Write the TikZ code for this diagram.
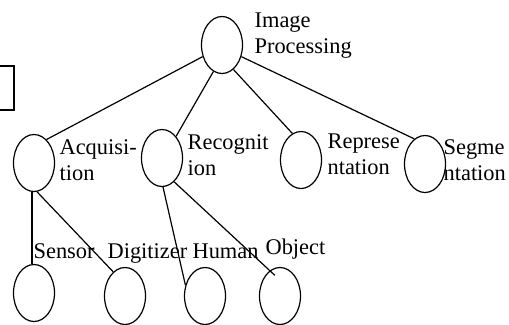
\documentclass[tikz,border=0pt]{standalone}
\usepackage{fontspec}
\setmainfont{Liberation Serif}
\usetikzlibrary{shapes.geometric}

\begin{document}
\begin{tikzpicture}[x=1bp,y=-1bp,line width=1.2bp,
  blob/.style={draw,ellipse,minimum width=41bp,minimum height=57bp,inner sep=0pt},
  lbl/.style={anchor=base west,inner sep=0pt,align=left,font=\fontsize{22.5}{25.5}\selectfont}]
\useasboundingbox (0,0) rectangle (509,324);
\clip (0,0) rectangle (509,324);
\draw (-20,66) rectangle (14,110);
% ellipses
\node[blob] (img) at (222,45) {};
\node[blob] (acq) at (34,163) {};
\node[blob] (rec) at (162,158) {};
\node[blob] (rep) at (301,160) {};
\node[blob] (seg) at (425,164) {};
\node[blob] (sen) at (34,293) {};
\node[blob] (dig) at (125,296) {};
\node[blob] (hum) at (205,296) {};
\node[blob] (obj) at (280,296) {};
% connectors
\draw (img.211) -- (acq.62);
\draw (img.252) -- (rec.57);
\draw (img.295) -- (rep.108);
\draw (img.329) -- (seg.113);
\draw (acq.266) -- (sen.94);
\draw (acq.276) -- (dig.116);
\draw (rec.272) -- (hum.151);
\draw[shorten >=-7bp] (rec.297) -- (obj.112);
% labels (base = last line)
\node[lbl] (tImg) at (254,53) {Image\\Processing};
\node[lbl] (tAcq) at (59,180) {Acquisi-\\tion};
\node[lbl] (tRec) at (187,175) {Recognit\\ion};
\node[lbl] (tRep) at (327,174) {Represe\\ntation};
\node[lbl] (tSeg) at (443,180) {Segme\\ntation};
\node[lbl] (tSen) at (33,258) {Sensor};
\node[lbl] (tDig) at (107,258) {Digitizer};
\node[lbl] (tHum) at (192,258) {Human};
\node[lbl] (tObj) at (265,254) {Object};
\end{tikzpicture}
\end{document}
